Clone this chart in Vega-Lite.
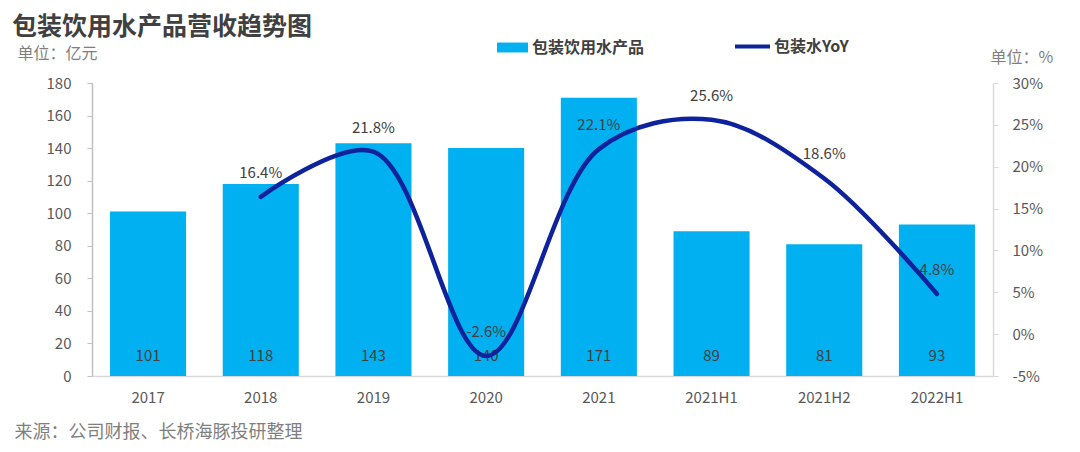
{
  "$schema": "https://vega.github.io/schema/vega-lite/v6.json",
  "width": 901,
  "height": 293,
  "autosize": {"type": "none"},
  "padding": {"left": 92, "top": 83, "right": 87, "bottom": 76},
  "background": "white",
  "config": {
    "font": "Noto Sans CJK SC",
    "view": {"stroke": null},
    "axisY": {"labelOverlap": false}
  },
  "title": {
    "text": "包装饮用水产品营收趋势图",
    "anchor": "start",
    "frame": "group",
    "dx": -80,
    "fontSize": 25,
    "fontWeight": "bold",
    "color": "#404040",
    "font": "Noto Sans CJK SC",
    "offset": -10,
    "dy": 3
  },
  "data": {
    "values": [
      {"period": "2017", "revenue": 101, "yoy": null},
      {"period": "2018", "revenue": 118, "yoy": 16.4},
      {"period": "2019", "revenue": 143, "yoy": 21.8},
      {"period": "2020", "revenue": 140, "yoy": -2.6},
      {"period": "2021", "revenue": 171, "yoy": 22.1},
      {"period": "2021H1", "revenue": 89, "yoy": 25.6},
      {"period": "2021H2", "revenue": 81, "yoy": 18.6},
      {"period": "2022H1", "revenue": 93, "yoy": 4.8}
    ]
  },
  "encoding": {
    "x": {
      "field": "period",
      "type": "ordinal",
      "sort": null,
      "scale": {"paddingInner": 0.325, "paddingOuter": 0.16},
      "axis": {
        "labelAngle": 0,
        "labelFontSize": 15,
        "labelColor": "#595959",
        "labelPadding": 14,
        "ticks": false,
        "domainColor": "#d9d9d9",
        "domainWidth": 1.5,
        "title": "来源：公司财报、长桥海豚投研整理",
        "titleFontSize": 18,
        "titleFontWeight": "normal",
        "titleColor": "#7f7f7f",
        "titleAnchor": "start",
        "titleAlign": "left",
        "titleBaseline": "middle",
        "titleX": -78,
        "titleY": 56
      }
    }
  },
  "layer": [
    {
      "layer": [
        {
          "mark": {"type": "bar", "color": "#00B0F0"},
          "encoding": {
            "y": {
              "field": "revenue",
              "type": "quantitative",
              "scale": {"domain": [0, 180], "nice": false},
              "axis": {
                "values": [0, 20, 40, 60, 80, 100, 120, 140, 160, 180],
                "labelOverlap": false,
                "grid": false,
                "labelFontSize": 15,
                "labelColor": "#595959",
                "labelPadding": 16,
                "tickSize": 5,
                "tickColor": "#bfbfbf",
                "domainColor": "#bfbfbf",
                "domainWidth": 1.5,
                "title": "单位：亿元",
                "titleAngle": 0,
                "titleFontSize": 16,
                "titleFontWeight": "normal",
                "titleColor": "#7f7f7f",
                "titleAlign": "left",
                "titleBaseline": "middle",
                "titleX": -75,
                "titleY": -30
              }
            },
            "color": {
              "datum": "包装饮用水产品",
              "scale": {"range": ["#00B0F0"]},
              "legend": {
                "orient": "none",
                "legendX": 405,
                "legendY": -51,
                "title": null,
                "symbolType": "M-1,-0.32H1V0.32H-1Z",
                "symbolSize": 961,
                "symbolStrokeWidth": 0,
                "labelFontSize": 16,
                "labelFontWeight": "bold",
                "labelColor": "#404040",
                "labelOffset": 4
              }
            }
          }
        },
        {
          "mark": {"type": "text", "fontSize": 15, "color": "#404040", "baseline": "middle", "dy": -20},
          "encoding": {
            "y": {
              "datum": 0,
              "type": "quantitative",
              "axis": {
                "values": [0, 20, 40, 60, 80, 100, 120, 140, 160, 180],
                "labelOverlap": false,
                "grid": false,
                "labelFontSize": 15,
                "labelColor": "#595959",
                "labelPadding": 16,
                "tickSize": 5,
                "tickColor": "#bfbfbf",
                "domainColor": "#bfbfbf",
                "domainWidth": 1.5,
                "title": "单位：亿元",
                "titleAngle": 0,
                "titleFontSize": 16,
                "titleFontWeight": "normal",
                "titleColor": "#7f7f7f",
                "titleAlign": "left",
                "titleBaseline": "middle",
                "titleX": -75,
                "titleY": -30
              }
            },
            "text": {"field": "revenue", "type": "quantitative"}
          }
        }
      ]
    },
    {
      "transform": [
        {"filter": "datum.yoy != null"},
        {"calculate": "replace(format(datum.yoy, '.1f'), '\u2212', '-') + '%'", "as": "yoyLabel"}
      ],
      "encoding": {
        "y": {
          "field": "yoy",
          "type": "quantitative",
          "scale": {"domain": [-5, 30], "nice": false},
          "axis": {
            "orient": "right",
            "values": [-5, 0, 5, 10, 15, 20, 25, 30],
            "labelExpr": "datum.value + '%'",
            "labelOverlap": false,
            "grid": false,
            "labelFontSize": 15,
            "labelColor": "#595959",
            "labelPadding": 14,
            "tickSize": 5,
            "tickColor": "#d9d9d9",
            "domainColor": "#d9d9d9",
            "domainWidth": 1.5,
            "title": "单位：%",
            "titleAngle": 0,
            "titleFontSize": 16,
            "titleFontWeight": "normal",
            "titleColor": "#7f7f7f",
            "titleAlign": "left",
            "titleBaseline": "middle",
            "titleX": -3,
            "titleY": -26
          }
        }
      },
      "layer": [
        {
          "mark": {"type": "line", "interpolate": "catmull-rom", "strokeWidth": 4.5, "strokeCap": "round"},
          "encoding": {
            "color": {
              "datum": "包装水YoY",
              "scale": {"range": ["#0D229B"]},
              "legend": {
                "orient": "none",
                "legendX": 641,
                "legendY": -56,
                "title": null,
                "symbolSize": 1225,
                "symbolStrokeWidth": 4,
                "labelFontSize": 16,
                "labelFontWeight": "bold",
                "labelColor": "#404040",
                "labelOffset": 2
              }
            }
          }
        },
        {
          "mark": {"type": "text", "fontSize": 15, "color": "#404040", "dy": -24, "baseline": "middle"},
          "encoding": {
            "text": {"field": "yoyLabel"}
          }
        }
      ]
    }
  ],
  "resolve": {"scale": {"y": "independent", "color": "independent"}}
}
